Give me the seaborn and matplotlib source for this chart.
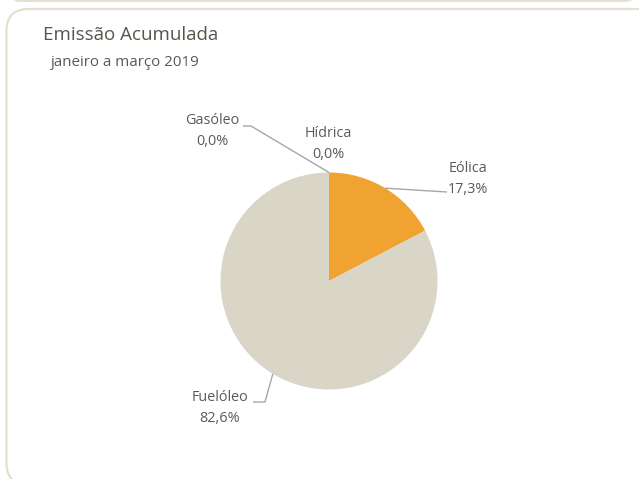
import numpy as np
import matplotlib
matplotlib.use('Agg')
import matplotlib.pyplot as plt
from matplotlib.patches import FancyBboxPatch
import seaborn as sns

sns.set_theme(style='white')
plt.rcParams['font.family'] = ['Open Sans', 'DejaVu Sans']

# ── データ ─────────────────────────────────────
fontes = ['Eólica', 'Fuelóleo', 'Gasóleo', 'Hídrica']
valores = [17.3, 82.6, 0.0, 0.0]
rotulos = ['17,3%', '82,6%', '0,0%', '0,0%']
cores = ['#F0A330', '#D9D5C7', '#A5A5A5', '#4472C4']

TXT = '#595959'
W, H = 639, 479

fig = plt.figure(figsize=(W / 100, H / 100), dpi=100)
fig.patch.set_facecolor('white')

# moldura arredondada (pixels da figura)
moldura = FancyBboxPatch((6.5, -6), 660, 470 + 6, transform=None,
                         boxstyle='round,pad=0,rounding_size=22',
                         fc='none', ec='#E4E0CF', lw=1.6)
fig.patches.append(moldura)
topo = FancyBboxPatch((6.5, H - 0.8), 630, 60, transform=None,
                      boxstyle='round,pad=0,rounding_size=12',
                      fc='none', ec='#E4E0CF', lw=1.6)
fig.patches.append(topo)

fig.text(43 / W, 1 - 35 / H, 'Emissão Acumulada', fontsize=13.5,
         color='#5A554B', va='center', ha='left')
fig.text(51 / W, 1 - 62 / H, 'janeiro a março 2019', fontsize=10.9,
         color=TXT, va='center', ha='left')

# pizza: centro (329, 281), raio 108 px
cx, cy, r = 329, 281, 108.5
ax = fig.add_axes([(cx - r) / W, (H - cy - r) / H, 2 * r / W, 2 * r / H])
wedges, _ = ax.pie(valores, colors=cores, startangle=90, counterclock=False,
                   radius=1, wedgeprops=dict(linewidth=0))
ax.set_xlim(-1, 1)
ax.set_ylim(-1, 1)
ax.set_aspect('equal')
ax.axis('off')


def ponto_borda(w):
    ang = np.deg2rad((w.theta1 + w.theta2) / 2)
    return np.cos(ang), np.sin(ang)


def px2data(x, y):
    return ax.transData.inverted().transform(fig.transFigure.transform((x / W, 1 - y / H)))


def texto(x, y, s):
    fig.text(x / W, 1 - y / H, s, fontsize=10.4, color=TXT,
             ha='center', va='center', linespacing=1.6)


LINHA = dict(color='#A6A6A6', lw=1.0, solid_capstyle='butt', clip_on=False)

# Eólica
x0, y0 = ponto_borda(wedges[0])
x1, y1 = px2data(447, 192)
ax.plot([x0, x1], [y0, y1], **LINHA)
texto(468, 179, f'{fontes[0]}\n{rotulos[0]}')

# Fuelóleo
x0, y0 = ponto_borda(wedges[1])
x1, y1 = px2data(265, 402)
x2, y2 = px2data(253, 402)
ax.plot([x0, x1, x2], [y0, y1, y2], **LINHA)
texto(220, 408, f'{fontes[1]}\n{rotulos[1]}')

# Gasóleo
x0, y0 = ponto_borda(wedges[2])
x1, y1 = px2data(251, 126)
x2, y2 = px2data(243, 126)
ax.plot([x0, x1, x2], [y0, y1, y2], **LINHA)
texto(212, 131, f'{fontes[2]}\n{rotulos[2]}')

# Hídrica
texto(328, 144, f'{fontes[3]}\n{rotulos[3]}')

fig.savefig('out.png', dpi=100, facecolor='white')
